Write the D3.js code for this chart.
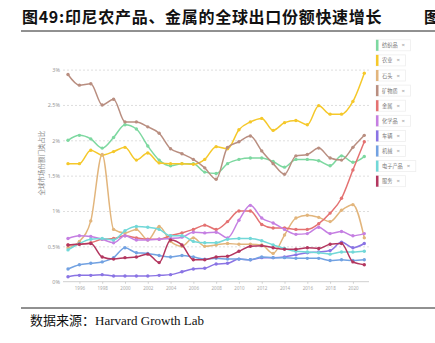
<!DOCTYPE html>
<html>
<head>
<meta charset="utf-8">
<script src="https://cdn.jsdelivr.net/npm/d3@7"></script>
<style>
  body { margin: 0; background: #fff; }
  svg { display: block; }
</style>
</head>
<body>
<svg id="chart" width="435" height="343"></svg>
<script>
// 1995-2021 global export share (%) by category
const years = d3.range(1995, 2022);
const categories = ["纺织品", "农业", "石头", "矿物质", "金属", "化学品", "车辆", "机械", "电子产品", "服务"];
const colors = ["#7dd8a0", "#f5c82a", "#e2b57c", "#b98e80", "#e47272", "#c57fe2", "#8a74e4", "#72a2e2", "#72d8d8", "#b3365f"];

const textiles = [2.00, 2.07, 2.02, 1.89, 2.04, 2.22, 2.16, 1.92, 1.72, 1.64, 1.67, 1.67, 1.55, 1.53, 1.67, 1.73, 1.75, 1.75, 1.70, 1.62, 1.73, 1.73, 1.71, 1.64, 1.78, 1.69, 1.77];
const agriculture = [1.67, 1.67, 1.86, 1.79, 1.84, 1.90, 1.72, 1.82, 1.68, 1.67, 1.67, 1.66, 1.73, 1.91, 1.88, 2.15, 2.26, 2.31, 2.14, 2.25, 2.28, 2.22, 2.49, 2.37, 2.37, 2.55, 2.95];
const stone = [0.48, 0.57, 0.86, 1.80, 0.74, 0.69, 0.74, 0.59, 0.78, 0.57, 0.50, 0.62, 0.50, 0.52, 0.54, 0.53, 0.53, 0.52, 0.40, 0.66, 0.90, 0.94, 0.91, 0.85, 1.01, 1.09, 0.62];
const minerals = [2.93, 2.78, 2.80, 2.50, 2.58, 2.26, 2.26, 2.19, 2.10, 1.88, 1.81, 1.73, 1.61, 1.45, 1.90, 1.98, 2.06, 1.85, 1.67, 1.52, 1.78, 1.80, 1.89, 1.75, 1.72, 1.90, 2.07];
const metals = [0.52, 0.53, 0.55, 0.60, 0.61, 0.65, 0.62, 0.60, 0.60, 0.65, 0.69, 0.74, 0.80, 0.74, 0.85, 1.00, 1.00, 0.81, 0.76, 0.76, 0.74, 0.74, 0.82, 0.97, 1.18, 1.58, 1.98];
const chemicals = [0.61, 0.65, 0.64, 0.60, 0.55, 0.65, 0.59, 0.59, 0.60, 0.61, 0.63, 0.70, 0.69, 0.70, 0.62, 0.87, 1.08, 0.90, 0.83, 0.74, 0.67, 0.68, 0.77, 0.68, 0.71, 0.65, 0.68];
const vehicles = [0.07, 0.09, 0.09, 0.10, 0.08, 0.08, 0.08, 0.08, 0.09, 0.10, 0.14, 0.18, 0.19, 0.25, 0.26, 0.32, 0.31, 0.34, 0.34, 0.35, 0.38, 0.41, 0.42, 0.44, 0.56, 0.48, 0.54];
const machinery = [0.18, 0.24, 0.26, 0.28, 0.34, 0.48, 0.41, 0.40, 0.37, 0.35, 0.37, 0.35, 0.32, 0.33, 0.32, 0.32, 0.31, 0.35, 0.34, 0.34, 0.33, 0.33, 0.33, 0.30, 0.31, 0.30, 0.31];
const electronics = [0.45, 0.54, 0.60, 0.61, 0.59, 0.72, 0.78, 0.77, 0.74, 0.65, 0.65, 0.57, 0.55, 0.55, 0.60, 0.61, 0.61, 0.58, 0.52, 0.47, 0.43, 0.42, 0.41, 0.39, 0.42, 0.42, 0.43];
const services = [0.52, 0.53, 0.54, 0.35, 0.32, 0.34, 0.35, 0.39, 0.27, 0.59, 0.52, 0.31, 0.31, 0.35, 0.36, 0.43, 0.50, 0.51, 0.48, 0.46, 0.46, 0.48, 0.47, 0.53, 0.54, 0.28, 0.24];

const seriesValues = [textiles, agriculture, stone, minerals, metals, chemicals, vehicles, machinery, electronics, services];
const yTicks = [0, 0.5, 1, 1.5, 2, 2.5, 3];
const xTicks = d3.range(1996, 2021, 2);

const titleText = "图49:印尼农产品、金属的全球出口份额快速增长";
const sourceText = "数据来源：";
const sourceName = "Harvard Growth Lab";
const yLabel = "全球市场份额门类占比";

const svg = d3.select("#chart");
const cjk = "'Noto Sans CJK SC', sans-serif";

// Header and footer rules
svg.append("text")
    .attr("x", 22).attr("y", 23)
    .attr("font-family", cjk)
    .attr("font-weight", "bold")
    .attr("font-size", 16)
    .attr("letter-spacing", 0.7)
    .attr("fill", "#111")
    .text(titleText);
svg.append("text")
    .attr("x", 424).attr("y", 23)
    .attr("font-family", cjk)
    .attr("font-weight", "bold")
    .attr("font-size", 16)
    .attr("fill", "#111")
    .text("图");
svg.append("line")
    .attr("x1", 21).attr("x2", 435)
    .attr("y1", 31).attr("y2", 31)
    .attr("stroke", "#222").attr("stroke-width", 1);
svg.append("line")
    .attr("x1", 21).attr("x2", 435)
    .attr("y1", 308).attr("y2", 308)
    .attr("stroke", "#222").attr("stroke-width", 1);
const src = svg.append("text")
    .attr("x", 30).attr("y", 325)
    .attr("font-size", 13)
    .attr("fill", "#111");
src.append("tspan").attr("font-family", cjk).text(sourceText);
src.append("tspan").attr("font-family", "'Liberation Serif', serif").text(sourceName);

// Scales
const x = d3.scaleLinear().domain([1995, 2021]).range([68, 364.3]);
const y = d3.scaleLinear().domain([0, 3]).range([281.7, 69.6]);
const plotLeft = 63, plotRight = 369;

// Y grid + labels
const yAxis = svg.append("g")
    .attr("transform", `translate(${plotLeft},0)`)
    .call(d3.axisLeft(y)
        .tickValues(yTicks)
        .tickSize(-(plotRight - plotLeft))
        .tickPadding(3)
        .tickFormat(d => d + "%"));
yAxis.select(".domain").remove();
yAxis.selectAll(".tick line")
    .attr("stroke", (d) => d === 0 ? "none" : "#dedede")
    .attr("stroke-dasharray", "2,2");
yAxis.selectAll(".tick text")
    .attr("fill", "#999")
    .attr("font-size", 5.5)
    .attr("font-family", "'Noto Sans', sans-serif");

// X axis
const xAxis = svg.append("g")
    .attr("transform", `translate(0,${y(0)})`)
    .call(d3.axisBottom(x)
        .tickValues(xTicks)
        .tickSize(2)
        .tickPadding(3)
        .tickFormat(d3.format("d")));
xAxis.select(".domain")
    .attr("d", `M${plotLeft},0H${plotRight}`)
    .attr("stroke", "#cfcfcf");
xAxis.selectAll(".tick line").attr("stroke", "#cfcfcf");
xAxis.selectAll(".tick text")
    .attr("fill", "#aaa")
    .attr("font-size", 4.5)
    .attr("font-family", "'Noto Sans', sans-serif");

svg.append("text")
    .attr("transform", `translate(44,163) rotate(-90)`)
    .attr("text-anchor", "middle")
    .attr("font-family", cjk)
    .attr("font-size", 6.5)
    .attr("fill", "#888")
    .text(yLabel);

// Series lines and markers
const line = d3.line()
    .x((d, i) => x(years[i]))
    .y(d => y(d))
    .curve(d3.curveMonotoneX);

const series = svg.append("g")
    .selectAll("g")
    .data(seriesValues)
    .join("g");

series.append("path")
    .attr("d", d => line(d))
    .attr("fill", "none")
    .attr("stroke", (d, i) => colors[i])
    .attr("stroke-width", 1.5);

series.each(function(vals, k) {
    d3.select(this).selectAll("circle")
        .data(vals)
        .join("circle")
        .attr("cx", (d, i) => x(years[i]))
        .attr("cy", d => y(d))
        .attr("r", 1.7)
        .attr("fill", colors[k]);
});

// Legend
const legend = svg.append("g")
    .selectAll("g")
    .data(categories)
    .join("g")
    .attr("transform", (d, i) => `translate(376,${45.3 + i * 15.1})`);

legend.each(function(name, i) {
    const g = d3.select(this);
    const label = g.append("text")
        .attr("x", 6).attr("y", 2)
        .attr("font-family", cjk)
        .attr("font-size", 5.2)
        .attr("fill", "#777")
        .text(name);
    const w = label.node().getComputedTextLength();
    g.insert("rect", "text")
        .attr("x", 0).attr("y", -5.5)
        .attr("width", w + 19).attr("height", 11)
        .attr("fill", "#fff")
        .attr("stroke", "#eee")
        .attr("stroke-width", 0.8);
    g.insert("rect", "text")
        .attr("x", 0).attr("y", -5.5)
        .attr("width", 2.5).attr("height", 11)
        .attr("fill", colors[i]);
    g.append("text")
        .attr("x", w + 10).attr("y", 2)
        .attr("font-family", "'Noto Sans', sans-serif")
        .attr("font-size", 6)
        .attr("fill", "#999")
        .text("×");
});
</script>
</body>
</html>
